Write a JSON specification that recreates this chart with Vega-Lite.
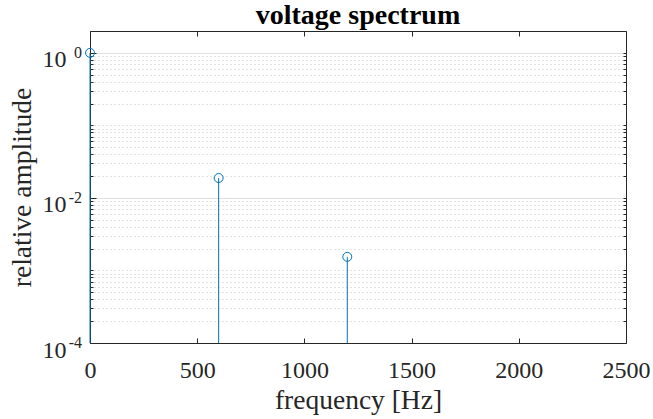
{
  "$schema": "https://vega.github.io/schema/vega-lite/v6.json",
  "width": 536,
  "height": 312,
  "autosize": "none",
  "padding": {"left": 90, "top": 31, "right": 27, "bottom": 76},
  "background": "white",
  "title": {
    "text": "voltage spectrum",
    "font": "Liberation Serif",
    "fontSize": 28,
    "fontWeight": "bold",
    "color": "#000000",
    "anchor": "middle",
    "baseline": "alphabetic",
    "offset": 7,
    "dy": 28
  },
  "config": {
    "view": {"stroke": null},
    "axis": {
      "labelFont": "Liberation Serif",
      "titleFont": "Liberation Serif",
      "labelFontSize": 24,
      "titleFontSize": 27.5,
      "labelColor": "#262626",
      "titleColor": "#262626",
      "titleFontWeight": "normal",
      "domainColor": "#262626",
      "tickColor": "#262626",
      "domainWidth": 1,
      "tickWidth": 1
    }
  },
  "datasets": {
    "spectrum": [
      {"f": 0, "amp": 1.0},
      {"f": 600, "amp": 0.0188},
      {"f": 1200, "amp": 0.00154}
    ],
    "exponents": [
      {"v": 1, "e": "0"},
      {"v": 0.01, "e": "-2"},
      {"v": 0.0001, "e": "-4"}
    ]
  },
  "resolve": {"axis": {"x": "independent", "y": "independent"}},
  "layer": [
    {
      "data": {"name": "spectrum"},
      "mark": {"type": "rule", "color": "#0072BD", "strokeWidth": 1},
      "encoding": {
        "x": {
          "field": "f", "type": "quantitative",
          "scale": {"domain": [0, 2500], "nice": false, "zero": false},
          "axis": {
            "orient": "bottom",
            "values": [0, 500, 1000, 1500, 2000, 2500],
            "format": "d",
            "grid": false,
            "tickSize": -5,
            "labelPadding": 20,
            "labelBaseline": "top",
            "labelFlush": false,
            "title": "frequency [Hz]",
            "titleBaseline": "alphabetic",
            "titleY": 65
          }
        },
        "y": {
          "field": "amp", "type": "quantitative",
          "scale": {"type": "log", "domain": [0.0001, 2], "nice": false},
          "axis": {
            "orient": "left",
            "values": [0.0001, 0.01, 1],
            "labelExpr": "'10'",
            "grid": true,
            "gridColor": "#dedede",
            "gridWidth": 1,
            "tickSize": -6,
            "labelPadding": 30,
            "labelBaseline": "alphabetic",
            "labelOffset": 14,
            "labelFlush": false,
            "title": "relative amplitude",
            "titleBaseline": "alphabetic",
            "titleX": -60
          }
        },
        "y2": {"datum": 0.0001}
      }
    },
    {
      "data": {"name": "spectrum"},
      "mark": {"type": "point", "shape": "circle", "filled": false, "color": "#0072BD", "strokeWidth": 1, "size": 80, "opacity": 1},
      "encoding": {
        "x": {
          "field": "f", "type": "quantitative",
          "axis": {
            "orient": "top",
            "values": [0, 500, 1000, 1500, 2000, 2500],
            "grid": false,
            "labels": false,
            "tickSize": -5,
            "title": null
          }
        },
        "y": {
          "field": "amp", "type": "quantitative",
          "axis": {
            "orient": "left",
            "values": [0.0002, 0.0003, 0.0004, 0.0005, 0.0006, 0.0007, 0.0008, 0.0009, 0.001, 0.002, 0.003, 0.004, 0.005, 0.006, 0.007, 0.008, 0.009, 0.02, 0.03, 0.04, 0.05, 0.06, 0.07, 0.08, 0.09, 0.1, 0.2, 0.3, 0.4, 0.5, 0.6, 0.7, 0.8, 0.9],
            "grid": true,
            "gridColor": "#c4c4c4",
            "gridDash": [1, 3],
            "gridWidth": 1,
            "labels": false,
            "domain": false,
            "tickSize": -3,
            "title": null
          }
        }
      }
    },
    {
      "data": {"name": "exponents"},
      "mark": {"type": "text", "align": "right", "baseline": "alphabetic", "dx": -8, "dy": 5, "font": "Liberation Serif", "fontSize": 16, "color": "#262626", "clip": false},
      "encoding": {
        "x": {"datum": 0, "type": "quantitative", "axis": null},
        "y": {
          "field": "v", "type": "quantitative",
          "axis": {
            "orient": "right",
            "values": [0.0002, 0.0003, 0.0004, 0.0005, 0.0006, 0.0007, 0.0008, 0.0009, 0.001, 0.002, 0.003, 0.004, 0.005, 0.006, 0.007, 0.008, 0.009, 0.01, 0.02, 0.03, 0.04, 0.05, 0.06, 0.07, 0.08, 0.09, 0.1, 0.2, 0.3, 0.4, 0.5, 0.6, 0.7, 0.8, 0.9, 1],
            "grid": false,
            "labels": false,
            "tickSize": -3,
            "title": null
          }
        },
        "text": {"field": "e"}
      }
    }
  ]
}
